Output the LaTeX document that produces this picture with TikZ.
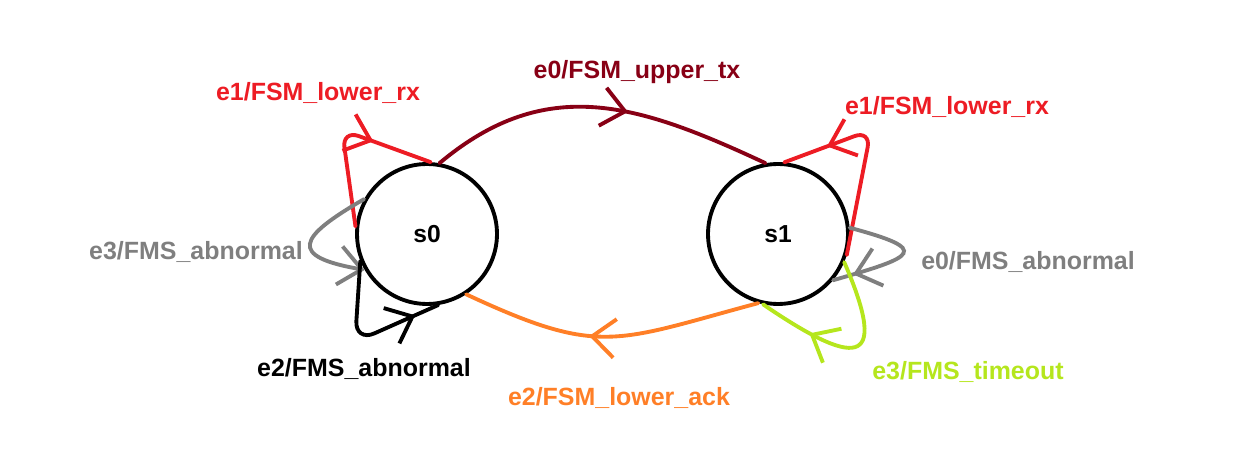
\documentclass[tikz,border=0pt]{standalone}
\usepackage{fontspec}
\setmainfont{Liberation Sans}
\usepackage{tikz}
\usetikzlibrary{arrows.meta,decorations.markings}

\definecolor{pdarkred}{RGB}{136,0,21}
\definecolor{pred}{RGB}{237,28,36}
\definecolor{pgray}{RGB}{127,127,127}
\definecolor{porange}{RGB}{255,127,39}
\definecolor{plime}{RGB}{181,230,29}

\tikzset{
  chev/.tip={Straight Barb[length=13pt,width=22pt,line width=2.2pt]},
  state/.style={circle, draw, line width=2.2pt, minimum size=2.8cm, inner sep=0pt, font=\fontsize{14}{16}\selectfont\bfseries},
  lbl/.style={font=\fontsize{14.2}{16}\selectfont\bfseries},
  edge/.style={line width=2.2pt, line cap=round},
  midarr/.style={postaction={decorate}, decoration={markings, mark=at position #1 with {\arrow{chev}}}}
}

\begin{document}
\begin{tikzpicture}[x=0.02cm, y=-0.02cm]
    \useasboundingbox (0,0) rectangle (1238,452);

    % States
    \node[state] (s0) at (427, 234) {s0};
    \node[state] (s1) at (778, 234) {s1};

    % Upper transition
    \draw[edge, pdarkred, midarr=0.58] (s0.80) to[out=40, in=155, looseness=1.1] (s1.100);
    \node[lbl, pdarkred] (tup) at (637, 72) {e0/FSM\_upper\_tx};

    % Lower transition
    \draw[edge, porange, midarr=0.57] (s1.254) to[out=195, in=-25, looseness=1.3] (s0.303);
    \node[lbl, porange] (tack) at (619, 398) {e2/FSM\_lower\_ack};

    % Loops on s0
    \draw[edge, pred, rounded corners=10pt, midarr=0.66] (s0.174) -- (342, 130) -- (s0.87);
    \node[lbl, pred] (trx0) at (318, 93) {e1/FSM\_lower\_rx};

    \draw[edge, pgray, -{chev}] (s0.151) to[out=210, in=170, looseness=2.8] (s0.210);
    \node[lbl, pgray] (tab0) at (196, 252) {e3/FMS\_abnormal};

    \draw[edge, black, rounded corners=12pt, midarr=0.84] (s0.202) -- (355, 342) -- (s0.279);
    \node[lbl, black] (tab2) at (364, 369) {e2/FMS\_abnormal};

    % Loops on s1
    \draw[edge, pred, rounded corners=10pt, midarr=0.78] (s1.343) -- (871, 130) -- (s1.85);
    \node[lbl, pred] (trx1) at (947, 107) {e1/FSM\_lower\_rx};

    \draw[edge, pgray, midarr=0.85] (s1.5) to[out=-15, in=16, looseness=4] (s1.320);
    \node[lbl, pgray] (tab1) at (1028, 262) {e0/FMS\_abnormal};

    \draw[edge, plime, midarr=0.72] (s1.337) .. controls (892, 372) and (852, 365) .. (s1.258);
    \node[lbl, plime] (tto) at (968, 372) {e3/FMS\_timeout};
\end{tikzpicture}
\end{document}
